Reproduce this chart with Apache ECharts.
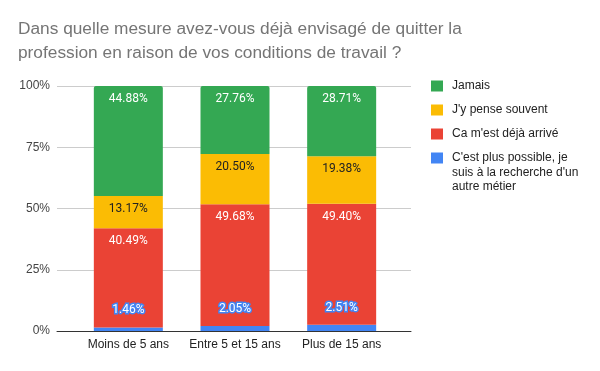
<!DOCTYPE html>
<html>
<head>
<meta charset="utf-8">
<script src="https://cdn.jsdelivr.net/npm/echarts@6/dist/echarts.min.js"></script>
<style>html,body{margin:0;padding:0;background:#fff}#c{width:600px;height:371px}</style>
</head>
<body>
<div id="c"></div>
<script>
const categories = ['Moins de 5 ans', 'Entre 5 et 15 ans', 'Plus de 15 ans'];
const seriesNames = ["C'est plus possible, je suis à la recherche d'un autre métier", "Ca m'est déjà arrivé", "J'y pense souvent", 'Jamais'];
const legendFirstLine = "C'est plus possible, je";
const legendRest = "suis à la recherche d'un\nautre métier";
const plusPossible = [1.46, 2.05, 2.51];
const dejaArrive = [40.49, 49.68, 49.40];
const penseSouvent = [13.17, 20.50, 19.38];
const jamais = [44.88, 27.76, 28.71];
const yTicks = [0, 25, 50, 75, 100];
const colors = ['#4285F4', '#EA4335', '#FBBC04', '#34A853'];

const chart = echarts.init(document.getElementById('c'), null, {renderer: 'canvas'});
const fmt = p => p.value.toFixed(2) + '%';
const ARIAL = 'Arial, "Liberation Sans", sans-serif';
function mk(name, data, color, labelColor, extra) {
  return Object.assign({
    name: name, type: 'bar', stack: 'total', data: data,
    xAxisIndex: 0, yAxisIndex: 0, barWidth: 69,
    itemStyle: {color: color},
    label: {show: true, position: 'insideTop', distance: 7, color: labelColor,
      fontFamily: 'Roboto, Arial, sans-serif', fontSize: 12, formatter: fmt}
  }, extra || {});
}
chart.setOption({
  animation: false,
  title: {
    text: 'Dans quelle mesure avez-vous déjà envisagé de quitter la\nprofession en raison de vos conditions de travail ?',
    left: 18, top: 17, padding: 0,
    textStyle: {fontFamily: ARIAL, fontSize: 17.3, fontWeight: 'normal', color: '#757575', lineHeight: 24}
  },
  legend: {
    orient: 'vertical', left: 431, top: 79, padding: 0, itemWidth: 12, itemHeight: 11, itemGap: 10, icon: 'rect',
    data: [seriesNames[3], seriesNames[2], seriesNames[1], seriesNames[0]],
    formatter: n => n === seriesNames[0] ? legendFirstLine : n,
    textStyle: {fontFamily: ARIAL, fontSize: 12, color: '#222', lineHeight: 14, padding: [0,0,0,4]},
    selectedMode: false
  },
  graphic: [{
    type: 'text', left: 452, top: 165, silent: true,
    style: {text: legendRest, fontFamily: ARIAL, fontSize: 12, fill: '#222', lineHeight: 14.5}
  }],
  grid: [
    {left: 75, width: 320, top: 86, bottom: 40},
    {left: 57, right: 189, top: 86, bottom: 40}
  ],
  xAxis: [
    {type: 'category', gridIndex: 0, data: categories,
     axisLine: {show: false}, axisTick: {show: false},
     axisLabel: {color: '#222', fontSize: 12, fontFamily: ARIAL, margin: 8, interval: 0}},
    {type: 'category', gridIndex: 1, data: [''],
     axisLine: {show: true, lineStyle: {color: '#333', width: 1}}, axisTick: {show: false}, axisLabel: {show: false}}
  ],
  yAxis: [
    {type: 'value', gridIndex: 0, min: 0, max: 100, show: false},
    {type: 'value', gridIndex: 1, min: yTicks[0], max: yTicks[yTicks.length-1], interval: 25,
     axisLine: {show: false}, axisTick: {show: false},
     splitLine: {lineStyle: {color: '#cccccc'}},
     axisLabel: {color: '#444', fontSize: 12, fontFamily: ARIAL, margin: 7, formatter: v => v + '%'}}
  ],
  series: [
    mk(seriesNames[0], plusPossible, colors[0], '#fff', {
      label: {show: true, position: 'top', distance: 11, color: '#fff', textBorderColor: '#4285F4', textBorderWidth: 3,
        fontFamily: 'Roboto, Arial, sans-serif', fontSize: 12, formatter: fmt}
    }),
    mk(seriesNames[1], dejaArrive, colors[1], '#fff'),
    mk(seriesNames[2], penseSouvent, colors[2], '#222'),
    mk(seriesNames[3], jamais, colors[3], '#fff', {itemStyle: {color: colors[3], borderRadius: [2,2,0,0]}}),
    {type: 'line', xAxisIndex: 1, yAxisIndex: 1, data: [], silent: true}
  ]
});
</script>
</body>
</html>
